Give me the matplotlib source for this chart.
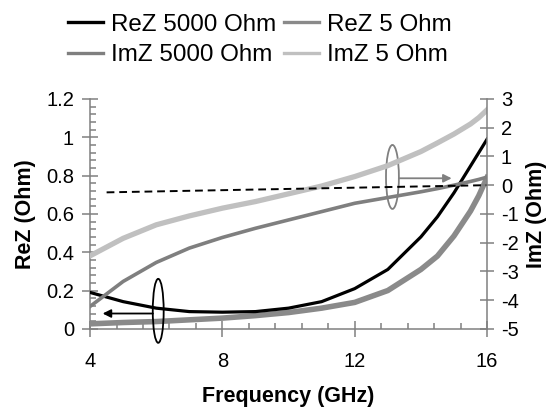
import numpy as np
import matplotlib
matplotlib.use('Agg')
import matplotlib.pyplot as plt
from matplotlib.patches import Ellipse
from matplotlib.lines import Line2D

plt.rcParams['font.family'] = ['Liberation Sans', 'DejaVu Sans']
plt.rcParams['axes.unicode_minus'] = False

# frequency points (GHz)
freq = [4, 5, 6, 7, 8, 9, 10, 11, 12, 13, 14, 14.5, 15, 15.5, 15.75, 16]

# left axis: ReZ (Ohm)
rez_5000 = [0.19, 0.142, 0.108, 0.09, 0.087, 0.09, 0.108, 0.142, 0.21,
            0.31, 0.48, 0.585, 0.71, 0.85, 0.92, 0.99]
rez_5 = [0.026, 0.033, 0.038, 0.047, 0.056, 0.069, 0.085, 0.108, 0.138,
         0.20, 0.31, 0.38, 0.485, 0.615, 0.695, 0.79]

# right axis: ImZ (Ohm)
imz_5000 = [-4.22, -3.35, -2.69, -2.19, -1.82, -1.50, -1.21, -0.92, -0.63,
            -0.43, -0.23, -0.12, 0.0, 0.13, 0.2, 0.28]
imz_5 = [-2.46, -1.85, -1.38, -1.07, -0.80, -0.57, -0.30, -0.03, 0.30,
         0.68, 1.17, 1.47, 1.78, 2.13, 2.35, 2.62]

# dashed reference line on the ImZ axis
ref_x = [4.5, 16]
ref_y = [-0.25, 0.0]

labels = ['ReZ 5000 Ohm', 'ReZ 5 Ohm', 'ImZ 5000 Ohm', 'ImZ 5 Ohm']
colors = ['black', '#8a8a8a', '#7f7f7f', '#c0c0c0']
rez_ticks = [0, 0.2, 0.4, 0.6, 0.8, 1.0, 1.2]
imz_ticks = [-5, -4, -3, -2, -1, 0, 1, 2, 3]
freq_ticks = [4, 8, 12, 16]

gray = '#808080'

fig = plt.figure(figsize=(5.56, 4.09), dpi=100)
ax = fig.add_axes([0.162, 0.196, 0.714, 0.562])
ax2 = ax.twinx()

ax.plot(freq, rez_5000, color=colors[0], lw=2.3, zorder=4)
ax.plot(freq, rez_5, color=colors[1], lw=4.0, zorder=3)
ax2.plot(freq, imz_5000, color=colors[2], lw=2.6)
ax2.plot(freq, imz_5, color=colors[3], lw=3.8)
ax2.plot(ref_x, ref_y, color='black', lw=1.4, ls=(0, (4, 2.5)))

ax.set_xlim(4, 16)
ax.set_ylim(0, 1.2)
ax2.set_ylim(-5, 3)

ax.set_xticks(freq_ticks)
ax.set_xticks(np.arange(4, 16.01, 0.8), minor=True)
ax.set_yticks(rez_ticks)
ax.set_yticklabels(['{:g}'.format(t) for t in rez_ticks])
ax.set_yticks(np.arange(0, 1.201, 0.04), minor=True)
ax2.set_yticks(imz_ticks)

for s in ['top', 'right']:
    ax.spines[s].set_visible(False)
for s in ['top', 'left', 'bottom']:
    ax2.spines[s].set_visible(False)
for s in ['left', 'bottom']:
    ax.spines[s].set_color(gray)
    ax.spines[s].set_linewidth(1.1)
ax2.spines['right'].set_color(gray)
ax2.spines['right'].set_linewidth(1.1)

ax.tick_params(axis='x', which='major', direction='inout', length=11, width=1.1,
               color=gray, labelsize=14.5, pad=11)
ax.tick_params(axis='x', which='minor', direction='in', length=4, width=1.1, color=gray)
ax.tick_params(axis='y', which='major', direction='inout', length=11, width=1.1,
               color=gray, labelsize=14.5, pad=6)
ax.tick_params(axis='y', which='minor', direction='in', length=4, width=1.1, color=gray)
ax2.tick_params(axis='y', which='major', direction='inout', length=10, width=1.1,
                color=gray, labelsize=14.5, pad=5)

ax.set_xlabel('Frequency (GHz)', fontsize=15.5, fontweight='bold', labelpad=11)
ax.set_ylabel('ReZ (Ohm)', fontsize=15.5, fontweight='bold', labelpad=7)
ax2.set_ylabel('ImZ (Ohm)', fontsize=15.5, fontweight='bold', labelpad=5)

# ellipse markers with arrows pointing at the matching axis
e1 = Ellipse((6.06, 0.094), 0.33, 0.334, fill=False, ec='black', lw=1.3,
             clip_on=False, zorder=6)
ax.add_patch(e1)
ax.annotate('', xy=(4.38, 0.08), xytext=(5.9, 0.08),
            arrowprops=dict(arrowstyle='-|>', color='black', lw=1.3,
                            mutation_scale=12, shrinkA=0, shrinkB=0), zorder=6)
e2 = Ellipse((13.14, 0.793), 0.39, 0.334, fill=False, ec=gray, lw=1.3,
             clip_on=False, zorder=6)
ax.add_patch(e2)
ax.annotate('', xy=(14.93, 0.786), xytext=(13.34, 0.786),
            arrowprops=dict(arrowstyle='-|>', color=gray, lw=1.3,
                            mutation_scale=12, shrinkA=0, shrinkB=0), zorder=6)

# legend handles are thinner than the plotted lines; order fills rows
handles = [Line2D([], [], color=c, lw=2.4) for c in colors]
order = [0, 2, 1, 3]
fig.legend([handles[i] for i in order], [labels[i] for i in order],
           loc='center', ncol=2, bbox_to_anchor=(0.468, 0.902), frameon=False,
           fontsize=17.4, handlelength=1.45, handletextpad=0.33,
           columnspacing=0.33, labelspacing=0.36, borderaxespad=0)

fig.savefig('out.png', dpi=100)
